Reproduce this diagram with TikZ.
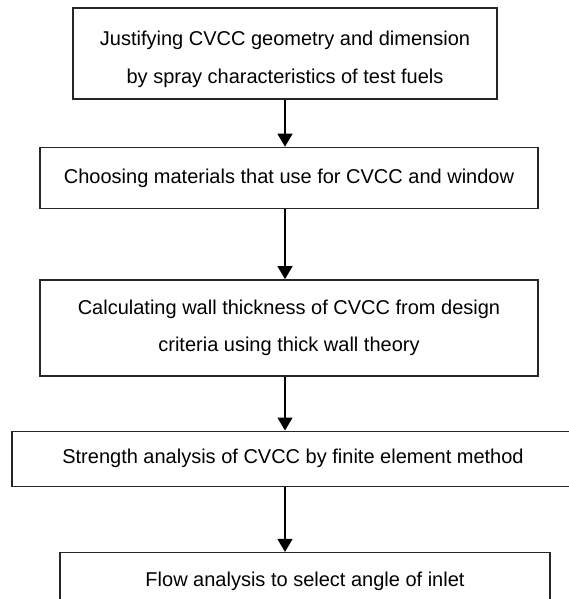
\documentclass[tikz,border=0pt]{standalone}
\usepackage{fontspec}
\setmainfont{Liberation Sans}
\usepackage{tikz}
\usetikzlibrary{arrows.meta,positioning}
\tikzset{
  block/.style={draw=black!85, line width=1.4pt, align=center, inner sep=0pt, font=\fontsize{20}{37.5}\selectfont},
  arrow/.style={-{Triangle[width=15pt,length=13pt]}, line width=1.4pt}
}

\begin{document}
\begin{tikzpicture}
    \useasboundingbox (0pt,0pt) rectangle (569pt,-599pt);

    % Geometry
    \node[block, minimum width=424pt, minimum height=91pt] (geom) at (285pt,-53.5pt) {\rule{0pt}{26pt}Justifying CVCC geometry and dimension\\by spray characteristics of test fuels};

    % Materials
    \node[block, below=47pt of geom, xshift=4pt, minimum width=498pt, minimum height=61pt] (mat) {Choosing materials that use for CVCC and window};
    \draw[arrow] (geom.south) -- (geom.south |- mat.north);

    % Wall thickness
    \node[block, below=70pt of mat, minimum width=498pt, minimum height=96pt] (wall) {Calculating wall thickness of CVCC from design\\criteria using thick wall theory};
    \draw[arrow] (geom.south |- mat.south) -- (geom.south |- wall.north);

    % Strength analysis
    \node[block, below=54pt of wall, xshift=4pt, minimum width=562pt, minimum height=55pt] (fem) {Strength analysis of CVCC by finite element method};
    \draw[arrow] (geom.south |- wall.south) -- (geom.south |- fem.north);

    % Flow analysis
    \node[block, below=65pt of fem, xshift=12pt, minimum width=490pt, minimum height=58pt] (flow) {Flow analysis to select angle of inlet};
    \draw[arrow] (geom.south |- fem.south) -- (geom.south |- flow.north);

\end{tikzpicture}
\end{document}
